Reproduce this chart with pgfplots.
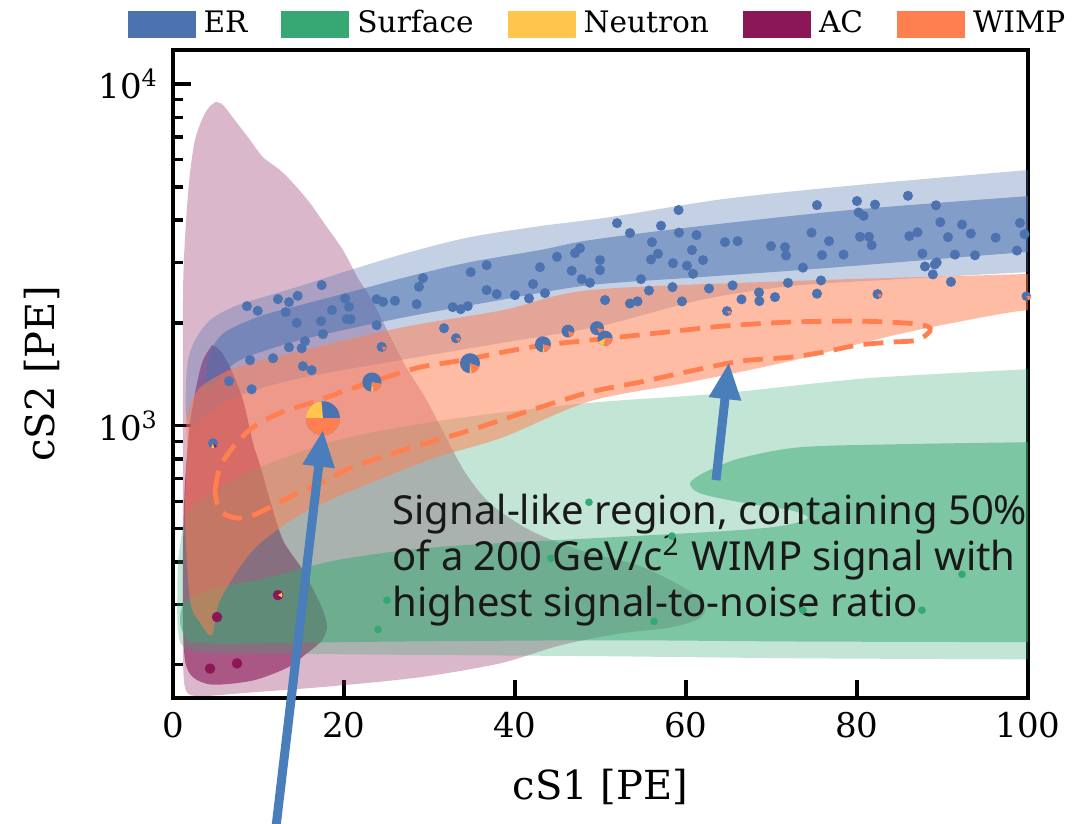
\documentclass[border=0pt]{standalone}
\usepackage{fontspec}
\setmainfont{DejaVu Serif}
\newfontfamily\annfont{Noto Sans}
\usepackage{pgfplots}
\pgfplotsset{compat=1.18}
\usetikzlibrary{calc,arrows.meta}

\definecolor{ERc}{HTML}{4C72B0}
\definecolor{SFc}{HTML}{37A873}
\definecolor{NTc}{HTML}{FFC54D}
\definecolor{ACc}{HTML}{8B1757}
\definecolor{WPc}{HTML}{FF7F50}
\definecolor{arrowc}{HTML}{4A7EBB}

% pie-slice plot marks: name, start angle, end angle
\newcommand{\wedgemark}[3]{%
  \pgfdeclareplotmark{#1}{%
    \pgfpathmoveto{\pgfpointorigin}%
    \pgfpathlineto{\pgfpointpolar{#2}{\the\pgfplotmarksize}}%
    \pgfpatharc{#2}{#3}{\the\pgfplotmarksize}%
    \pgfpathclose
    \pgfusepathqfill}}
\pgfdeclareplotmark{pieBase}{%
  \pgfpathcircle{\pgfpointorigin}{\the\pgfplotmarksize}%
  \pgfusepathqfill}
\wedgemark{wYa}{95}{180}
\wedgemark{wOa}{180}{360}
\wedgemark{wOb}{280}{350}
\wedgemark{wYb}{265}{280}
\wedgemark{wOc}{280}{340}
\wedgemark{wYc}{268}{280}
\wedgemark{wOd}{280}{345}
\wedgemark{wYd}{270}{280}
\wedgemark{wOe}{285}{345}
\wedgemark{wOf}{295}{350}
\wedgemark{wYg}{210}{265}
\wedgemark{wOg}{265}{360}
\wedgemark{wYs}{250}{290}
\wedgemark{wAs}{290}{320}
\wedgemark{wObite}{300}{360}
\wedgemark{wYbite}{330}{390}

\begin{document}
\begin{tikzpicture}
\begin{axis}[
  name=ax,
  scale only axis,
  width=213.75pt, height=162pt,
  xmin=0, xmax=100,
  ymode=log, ymin=160, ymax=12575,
  xtick={0,20,40,60,80,100},
  ytick={1000,10000},
  yticklabels={10\textsuperscript{3},10\textsuperscript{4}},
  minor ytick={200,300,400,500,600,700,800,900,2000,3000,4000,5000,6000,7000,8000,9000},
  xtick pos=left, ytick pos=left,
  tick align=inside,
  major tick length=4.5pt, minor tick length=2.5pt,
  every tick/.style={black, line width=0.8pt},
  axis line style={line width=0.9pt},
  /pgf/number format/assume math mode=true,
  ticklabel style={font=\fontsize{8.5}{10}\selectfont},
  xlabel={cS1 [PE]}, ylabel={cS2 [PE]},
  label style={font=\fontsize{9}{11}\selectfont},
  every axis x label/.style={at={(axis description cs:0.5,-0.1373)}, anchor=center},
  every axis y label/.style={at={(axis description cs:-0.1532,0.5)}, anchor=center, rotate=90},
  legend columns=5,
  legend style={at={(0.5,1)}, anchor=south, yshift=0.6pt, draw=none, fill=none,
    font=\fontsize{7.4}{9}\selectfont, inner sep=0pt,
    /tikz/every even column/.style={column sep=6.5pt}},
  legend image code/.code={\fill[#1, draw=none] (0pt,-3.4pt) rectangle (17pt,3.4pt);},
]
\addlegendimage{fill=ERc}\addlegendentry{ER}
\addlegendimage{fill=SFc}\addlegendentry{Surface}
\addlegendimage{fill=NTc}\addlegendentry{Neutron}
\addlegendimage{fill=ACc}\addlegendentry{AC}
\addlegendimage{fill=WPc}\addlegendentry{WIMP}

% AC, outer and inner contours
\addplot[forget plot, draw=none, fill=ACc, fill opacity=0.31, smooth, tension=0.5] coordinates {
(5.03,8860) (5.85,8680) (7.49,7690) (9.01,6858) (10.53,6110) (12.51,5602) (14.04,5131)
(16.02,4484) (18.01,3813) (19.88,3268) (21.64,2705) (23.27,2333) (25.03,1906) (27.13,1505)
(29.47,1213) (31.81,939) (34.15,732) (37.08,594) (41.75,495) (47.6,433) (54.62,389)
(59.88,335) (62.22,301) (61.64,274) (58.13,257) (52.28,247) (45.26,228) (38.25,202)
(28.89,184) (18.36,173) (9.01,166) (3.16,162) (1.52,168) (1.17,206) (1.17,309) (1.17,606)
(1.17,1189) (1.17,2333) (1.29,3116) (1.64,4364) (1.99,5489) (2.57,6858) (3.51,8001)
(4.33,8621) (5.03,8860)};
\addplot[forget plot, draw=none, fill=ACc, fill opacity=0.6, smooth, tension=0.5] coordinates {
(4.56,1722) (5.5,1665) (6.67,1485) (8.19,1189) (9.36,890) (10.18,768) (11.35,606)
(12.87,463) (15.2,378) (17.19,303) (18.01,261) (17.43,236) (15.44,214) (13.33,196)
(9.36,180) (4.68,175) (2.34,184) (1.4,206) (1.17,276) (1.17,433) (1.4,680) (1.99,1018)
(2.81,1334) (3.51,1557) (4.56,1722)};

% ER bands
\addplot[forget plot, draw=none, fill=ERc, fill opacity=0.33, smooth, tension=0.5] coordinates {
(1.52,1316) (1.75,1557) (2.57,1781) (4.33,2039) (7.25,2240) (11.35,2413) (14.85,2563)
(20.7,2856) (27.72,3224) (34.74,3566) (42.92,3840) (51.11,4080) (64.33,4606) (80.0,5063)
(100,5602) (106,5760) (106,2840) (100,2817) (85.03,2687) (72.16,2563) (61.64,2333)
(49.94,1958) (38.25,1745) (26.55,1557) (14.85,1378) (7.84,1230) (3.74,1075) (2.22,984)
(1.52,1075) (1.52,1316)};
\addplot[forget plot, draw=none, fill=ERc, fill opacity=0.55, smooth, tension=0.5] coordinates {
(3.74,1361) (4.33,1643) (6.08,1880) (10.18,2094) (14.85,2255) (20.7,2462) (27.72,2742)
(34.74,3013) (42.92,3268) (48.77,3495) (61.64,3840) (79.18,4279) (100,4700) (106,4800)
(106,3240) (100,3224) (85.03,3013) (73.33,2856) (61.64,2723) (48.77,2581) (38.25,2333)
(26.55,2066) (14.85,1781) (7.84,1557) (5.26,1361) (4.09,1255) (3.74,1361)};

% Surface bands
\addplot[forget plot, draw=none, fill=SFc, fill opacity=0.3, smooth, tension=0.5] coordinates {
(0.58,405) (1.4,530) (3.16,606) (9.36,742) (19.18,908) (30.88,1032) (42.57,1126)
(51.11,1181) (64.33,1246) (81.17,1378) (100,1465) (106,1490) (106,207) (100,207.5)
(73.33,209) (49.94,212) (26.55,214) (9.01,216.5) (1.99,221) (0.58,252) (0.58,405)};
\addplot[forget plot, draw=none, fill=SFc, fill opacity=0.5, smooth, tension=0.5] coordinates {
(106,900) (100,896) (85.03,884) (73.33,866) (66.32,804) (62.22,732) (60.47,680)
(61.64,635) (66.32,598) (72.16,567) (74.27,537) (70.99,509) (64.33,492) (51.11,472)
(30.88,442) (19.18,405) (11.35,361) (4.33,331) (1.4,305) (0.82,270) (1.52,241)
(4.33,231) (26.55,234) (51.11,236) (73.33,234) (100,233) (106,233) (106,900)};

% WIMP band
\addplot[forget plot, draw=none, fill=WPc, fill opacity=0.52, smooth, tension=0.5] coordinates {
(1.52,1039) (2.22,1189) (3.51,1316) (7.49,1485) (15.2,1665) (26.9,1944) (38.6,2181)
(48.77,2496) (72.16,2652) (100,2782) (106,2820) (106,2150) (100,2181) (91.7,2012)
(83.86,1830) (72.16,1546) (60.47,1343) (48.77,1181) (38.6,926) (30.88,810) (23.04,680)
(15.2,556) (9.36,433) (5.5,309) (4.56,244) (3.16,266) (1.99,309) (1.4,541) (1.64,849)
(1.52,1039)};

% signal-like region
\addplot[forget plot, WPc, line width=1.2pt, dash pattern=on 5pt off 2.6pt, smooth, tension=0.5] coordinates {
(4.91,648) (5.5,757) (7.02,866) (9.36,991) (12.51,1090) (16.37,1173) (20.35,1272)
(24.56,1378) (28.89,1485) (33.92,1557) (38.6,1643) (43.27,1722) (48.77,1781) (56.61,1868)
(64.33,1958) (72.16,2012) (80.0,2025) (85.85,1998) (88.19,1958) (88.54,1893) (87.02,1781)
(83.86,1757) (80.0,1722) (76.02,1643) (72.16,1588) (66.32,1546) (60.47,1445) (54.62,1343)
(48.77,1255) (42.57,1126) (34.74,971) (26.9,849) (20.7,752) (18.01,694) (14.5,635)
(11.35,578) (9.36,548) (7.49,537) (5.85,556) (5.15,594) (4.91,648)};

% Surface events
\addplot[forget plot, only marks, mark=*, mark size=0.75pt, color=SFc] coordinates {
(48.65,598) (58.36,476) (44.21,410) (92.28,368) (73.68,289) (87.6,289) (56.26,268)
(25.03,309) (23.98,254)};

% AC events
\addplot[forget plot, only marks, mark=*, mark size=1.1pt, color=ACc] coordinates {
(5.15,276) (12.28,320) (4.33,195) (7.49,202)};
\addplot[forget plot, only marks, mark=wYbite, mark size=1.1pt, color=NTc] coordinates {(12.28,320)};

% ER events
\addplot[forget plot, only marks, mark=*, mark size=1.05pt, color=ERc] coordinates {
(8.65,2240) (9.91,2171) (12.28,2348) (13.57,2302) (14.58,2401) (13.18,2152) (17.39,2581)
(14.47,2002) (17.31,2025) (18.6,2181) (20.12,2360) (20.58,2231) (20.35,2052) (20.78,2052)
(17.54,1855) (15.44,1769) (15.05,1687) (13.57,1698) (11.7,1577) (9.01,1557) (15.2,1495)
(16.22,1455) (6.55,1352) (9.2,1280) (23.82,2348) (24.56,2306) (25.96,2322) (23.82,1971)
(24.41,1702) (28.5,2271) (28.77,2552) (29.24,2705) (31.7,1931) (33.1,1805) (32.71,2225)
(33.65,2195) (34.47,2240) (34.82,2817) (36.69,2496) (37.86,2429) (36.69,2952) (40.0,2413)
(41.64,2360) (42.11,2599) (42.92,2912) (43.51,2446) (44.91,3123) (46.63,2843) (47.02,3202)
(47.6,3310) (47.8,2687) (48.77,2622) (49.94,2856) (49.94,3054) (50.53,2333) (51.93,3918)
(53.45,3664) (57.08,3850) (59.13,4279) (59.18,3674) (61.23,3614) (56.02,3448) (56.73,3187)
(55.91,3067) (60.7,3268) (61.99,3054) (58.48,2992) (60.12,2942) (60.82,2785) (54.74,2687)
(55.67,2488) (58.42,2546) (62.69,2523) (65.45,2576) (53.45,2280) (54.33,2313) (59.53,2313)
(64.8,2166) (66.49,2345) (68.54,2457) (68.58,2318) (70.41,2380) (71.93,2620) (75.79,2663)
(75.32,2436) (82.4,2429) (64.56,3448) (66.04,3471) (69.94,3356) (71.58,3333) (71.7,3151)
(73.68,2903) (75.91,3159) (78.43,3170) (76.73,3471) (74.68,3674) (80.35,3574) (81.4,3574)
(81.72,3378) (75.32,4423) (80.0,4545) (80.19,4210) (80.78,4114) (82.11,4439) (85.96,4710)
(86.12,3590) (87.08,3684) (87.65,3191) (87.95,2926) (89.1,2966) (89.32,3007) (88.87,2774)
(90.99,2638) (89.24,4417) (89.75,3945) (90.64,3566) (91.46,3170) (92.28,3881) (93.31,3652)
(93.8,3155) (96.22,3554) (99.06,3923) (99.6,3639) (98.71,3257)};
\addplot[forget plot, only marks, mark=wObite, mark size=1.05pt, color=WPc] coordinates {
(64.8,2166) (82.4,2429) (33.1,1805) (24.41,1702)};

% mixed events drawn as pies
\addplot[forget plot, only marks, mark=pieBase, mark size=4.25pt, color=ERc] coordinates {(17.54,1053)};
\addplot[forget plot, only marks, mark=wYa, mark size=4.25pt, color=NTc] coordinates {(17.54,1053)};
\addplot[forget plot, only marks, mark=wOa, mark size=4.25pt, color=WPc] coordinates {(17.54,1053)};

\addplot[forget plot, only marks, mark=pieBase, mark size=2.4pt, color=ERc] coordinates {(23.27,1343)};
\addplot[forget plot, only marks, mark=wOb, mark size=2.4pt, color=WPc] coordinates {(23.27,1343)};
\addplot[forget plot, only marks, mark=wYb, mark size=2.4pt, color=NTc] coordinates {(23.27,1343)};

\addplot[forget plot, only marks, mark=pieBase, mark size=2.5pt, color=ERc] coordinates {(34.74,1525)};
\addplot[forget plot, only marks, mark=wOc, mark size=2.5pt, color=WPc] coordinates {(34.74,1525)};
\addplot[forget plot, only marks, mark=wYc, mark size=2.5pt, color=NTc] coordinates {(34.74,1525)};

\addplot[forget plot, only marks, mark=pieBase, mark size=2pt, color=ERc] coordinates {(43.27,1733)};
\addplot[forget plot, only marks, mark=wOd, mark size=2pt, color=WPc] coordinates {(43.27,1733)};
\addplot[forget plot, only marks, mark=wYd, mark size=2pt, color=NTc] coordinates {(43.27,1733)};

\addplot[forget plot, only marks, mark=pieBase, mark size=1.6pt, color=ERc] coordinates {(46.2,1893)};
\addplot[forget plot, only marks, mark=wOe, mark size=1.6pt, color=WPc] coordinates {(46.2,1893)};

\addplot[forget plot, only marks, mark=pieBase, mark size=1.75pt, color=ERc] coordinates {(49.59,1931)};
\addplot[forget plot, only marks, mark=wOf, mark size=1.75pt, color=WPc] coordinates {(49.59,1931)};

\addplot[forget plot, only marks, mark=pieBase, mark size=1.9pt, color=ERc] coordinates {(50.53,1805)};
\addplot[forget plot, only marks, mark=wYg, mark size=1.9pt, color=NTc] coordinates {(50.53,1805)};
\addplot[forget plot, only marks, mark=wOg, mark size=1.9pt, color=WPc] coordinates {(50.53,1805)};

\addplot[forget plot, only marks, mark=pieBase, mark size=1.25pt, color=ERc] coordinates {(4.68,890)};
\addplot[forget plot, only marks, mark=wYs, mark size=1.25pt, color=NTc] coordinates {(4.68,890)};
\addplot[forget plot, only marks, mark=wAs, mark size=1.25pt, color=ACc] coordinates {(4.68,890)};

\addplot[forget plot, only marks, mark=pieBase, mark size=1.2pt, color=ERc] coordinates {(99.8,2396)};
\addplot[forget plot, only marks, mark=wObite, mark size=1.2pt, color=WPc] coordinates {(99.8,2396)};

\node[anchor=north west, inner sep=0pt, align=left, text=black!90,
  font=\annfont\fontsize{10}{11.5}\selectfont] at (axis cs:25.6,635)
  {Signal-like region, containing 50\%\\of a 200 GeV/c\textsuperscript{2} WIMP signal with\\highest signal-to-noise ratio};

\coordinate (a1s) at (axis cs:12.0,65.6);
\coordinate (a1e) at (axis cs:17.54,975);
\coordinate (a2s) at (axis cs:63.51,694);
\coordinate (a2e) at (axis cs:65.03,1536);
\end{axis}
\draw[arrowc, line width=2.25pt, -{Triangle[width=7.5pt, length=9.25pt]}] (a1s) -- (a1e);
\draw[arrowc, line width=2.25pt, -{Triangle[width=7.5pt, length=9.25pt]}] (a2s) -- (a2e);
\pgfresetboundingbox
\path[use as bounding box] ($(ax.south west)+(-43.25pt,-31.5pt)$) rectangle ($(ax.north east)+(14.5pt,12.5pt)$);
\end{tikzpicture}
\end{document}
